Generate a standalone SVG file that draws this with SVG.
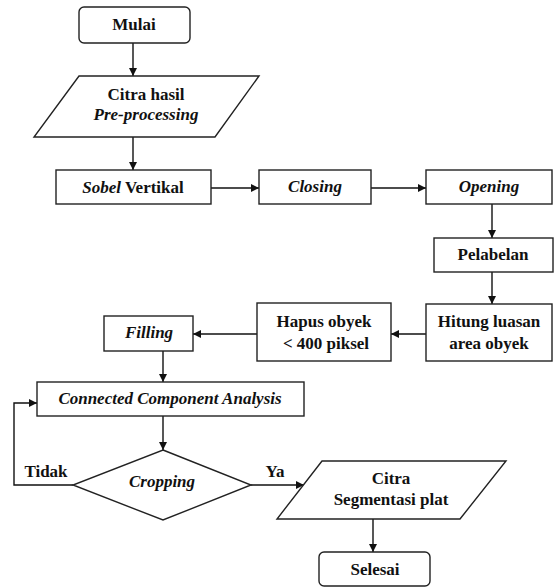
<svg xmlns="http://www.w3.org/2000/svg" width="559" height="587" viewBox="0 0 559 587">
<defs>
<marker id="arr" viewBox="0 0 10 10" refX="10" refY="5" markerWidth="8" markerHeight="8" markerUnits="userSpaceOnUse" orient="auto">
<path d="M0,0 L10,5 L0,10 z" fill="#111"/>
</marker>
</defs>
<style>
.s{fill:#fff;stroke:#222;stroke-width:1.4}
.t{font-family:'Liberation Serif','Times New Roman',Times,'DejaVu Serif',serif;font-weight:bold;font-size:17px;fill:#111;text-anchor:middle}
.i{font-style:italic}
.c{fill:none;stroke:#111;stroke-width:1.4;marker-end:url(#arr)}
</style>
<rect width="559" height="587" fill="#fff"/>
<g id="connectors">
<path class="c" d="M133,43 V76"/>
<path class="c" d="M133,137 V170"/>
<path class="c" d="M211,188 H259"/>
<path class="c" d="M371,188 H426"/>
<path class="c" d="M492,204 V238"/>
<path class="c" d="M492,272 V304"/>
<path class="c" d="M426,334 H391"/>
<path class="c" d="M257,334 H193"/>
<path class="c" d="M163,351 V382"/>
<path class="c" d="M163,416 V450"/>
<path class="c" d="M73,485 H14 V403 H37"/>
<path class="c" d="M251,485 H304"/>
<path class="c" d="M373,519 V552"/>
</g>
<g id="mulai">
<rect class="s" x="79" y="7" width="111" height="36" rx="5"/>
<text class="t" x="134" y="30" font-family="Liberation Serif">Mulai</text>
</g>
<g id="citra-hasil">
<polygon class="s" points="79,76 259,76 215,137 34,137"/>
<text class="t" x="146" y="100">Citra hasil</text>
<text class="t i" x="146" y="120">Pre-processing</text>
</g>
<g id="sobel">
<rect class="s" x="56" y="170" width="155" height="34"/>
<text class="t" x="133" y="193"><tspan class="i">Sobel</tspan> Vertikal</text>
</g>
<g id="closing">
<rect class="s" x="259" y="170" width="112" height="34"/>
<text class="t i" x="315" y="192">Closing</text>
</g>
<g id="opening">
<rect class="s" x="426" y="170" width="126" height="34"/>
<text class="t i" x="489" y="192">Opening</text>
</g>
<g id="pelabelan">
<rect class="s" x="434" y="238" width="119" height="34"/>
<text class="t" x="493" y="260">Pelabelan</text>
</g>
<g id="hitung">
<rect class="s" x="426" y="304" width="126" height="57"/>
<text class="t" x="489" y="327">Hitung luasan</text>
<text class="t" x="489" y="349">area obyek</text>
</g>
<g id="hapus">
<rect class="s" x="257" y="303" width="134" height="58"/>
<text class="t" x="324" y="327">Hapus obyek</text>
<text class="t" x="326" y="349">&lt; 400 piksel</text>
</g>
<g id="filling">
<rect class="s" x="104" y="316" width="89" height="35"/>
<text class="t i" x="149" y="338">Filling</text>
</g>
<g id="cca">
<rect class="s" x="37" y="382" width="267" height="34"/>
<text class="t i" x="170" y="404">Connected Component Analysis</text>
</g>
<g id="cropping">
<polygon class="s" points="163,450 251,485 163,520 73,485"/>
<text class="t i" x="162" y="487">Cropping</text>
</g>
<g id="labels">
<text class="t" x="46" y="477">Tidak</text>
<text class="t" x="275" y="477">Ya</text>
</g>
<g id="citra-segmentasi">
<polygon class="s" points="322,461 506,461 460,519 277,519"/>
<text class="t" x="391" y="484">Citra</text>
<text class="t" x="391" y="505">Segmentasi plat</text>
</g>
<g id="selesai">
<rect class="s" x="319" y="552" width="111" height="34" rx="5"/>
<text class="t" x="375" y="575">Selesai</text>
</g>
</svg>
